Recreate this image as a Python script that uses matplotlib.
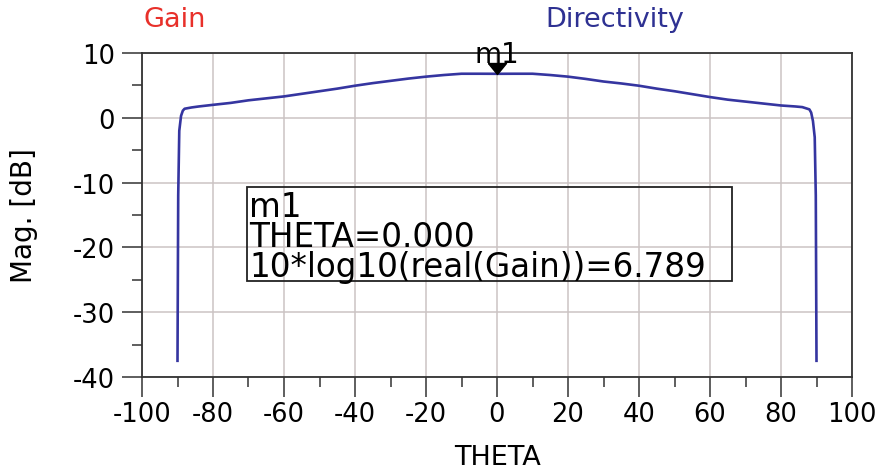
import matplotlib
matplotlib.use("Agg")
import matplotlib.pyplot as plt
from matplotlib.ticker import MultipleLocator
from matplotlib.patches import Rectangle

# ---- data ----
theta = [-90, -89.8, -89.5, -89, -88.5, -88, -86, -84, -80, -75, -70, -65, -60,
         -55, -50, -45, -40, -35, -30, -25, -20, -15, -10, -5, 0, 5, 10, 15, 20,
         25, 30, 35, 40, 45, 50, 55, 60, 65, 70, 75, 80, 84, 86, 88, 88.5, 89,
         89.5, 89.8, 90]
directivity_db = [-37.5, -12, -2, 0.3, 1.1, 1.4, 1.6, 1.75, 2.0, 2.3, 2.7, 3.0, 3.3,
                  3.7, 4.1, 4.5, 4.95, 5.35, 5.7, 6.05, 6.35, 6.6, 6.8, 6.8, 6.79, 6.8, 6.8, 6.6, 6.35,
                  6.0, 5.6, 5.3, 4.95, 4.5, 4.1, 3.65, 3.2, 2.8, 2.5, 2.2, 1.9, 1.75, 1.65, 1.3, 0.8, -0.5,
                  -3, -12, -37.5]
marker_theta = 0.0
marker_value = 6.789
x_ticks = [-100, -80, -60, -40, -20, 0, 20, 40, 60, 80, 100]
y_ticks = [-40, -30, -20, -10, 0, 10]
marker_lines = ["m1", "THETA=0.000", "10*log10(real(Gain))=6.789"]

FONT = "DejaVu Sans"
plt.rcParams["font.family"] = FONT
plt.rcParams["axes.unicode_minus"] = False

fig = plt.figure(figsize=(8.83, 4.77), dpi=100)
ax = fig.add_axes([142/883, 1-378/477, (852-142)/883, (378-54)/477])

line_col = "#3535a0"
ax.plot(theta, directivity_db, color=line_col, lw=1.9, solid_joinstyle="round", zorder=3)

ax.set_xlim(-100, 100)
ax.set_ylim(-40, 10)
ax.set_xticks(x_ticks)
ax.set_yticks(y_ticks)
ax.xaxis.set_minor_locator(MultipleLocator(10))
ax.yaxis.set_minor_locator(MultipleLocator(5))
ax.grid(True, which="major", color="#cbc3c3", lw=1.1, zorder=0)
ax.tick_params(which="major", direction="out", length=14.5, width=1.1, color="#333333",
               labelsize=18.5)
ax.tick_params(axis="x", which="major", pad=3)
ax.tick_params(axis="y", which="major", pad=5)
ax.tick_params(which="minor", direction="out", length=7, width=1.1, color="#333333")
for s in ax.spines.values():
    s.set_color("#333333")
    s.set_linewidth(1.3)

ax.set_xlabel("THETA", fontsize=19.5)
ax.set_ylabel("Mag. [dB]", fontsize=20)
ax.xaxis.set_label_coords(0.5, (378-445)/324)
ax.yaxis.set_label_coords((38-142)/710, 0.5)

# marker (tip of triangle at the data point)
tri = [(-0.82, 1.0), (0.82, 1.0), (0.0, 0.0), (-0.82, 1.0)]
ax.plot([marker_theta], [marker_value], marker=tri, color="black", markersize=15.8,
        linestyle="none", zorder=5, clip_on=False)
ax.text(marker_theta, marker_value + 1.75, marker_lines[0], ha="center", va="baseline",
        fontsize=20, zorder=6)

# marker readout box
ax.add_patch(Rectangle((0.148, 0.296), 0.683, 0.29, transform=ax.transAxes,
                       fill=False, edgecolor="#222222", lw=1.3, zorder=4))
for i, t in enumerate(marker_lines):
    ax.text(0.151, 0.497 - i * 0.092, t, transform=ax.transAxes, ha="left",
            va="baseline", fontsize=23.5, zorder=6)

# header legend labels
fig.text(175/883, 1-20/477, "Gain", color="#e8302a", fontsize=19.5, ha="center", va="center")
fig.text(615/883, 1-20/477, "Directivity", color="#2e3192", fontsize=19.5, ha="center", va="center")

fig.savefig("out.png", dpi=100)
